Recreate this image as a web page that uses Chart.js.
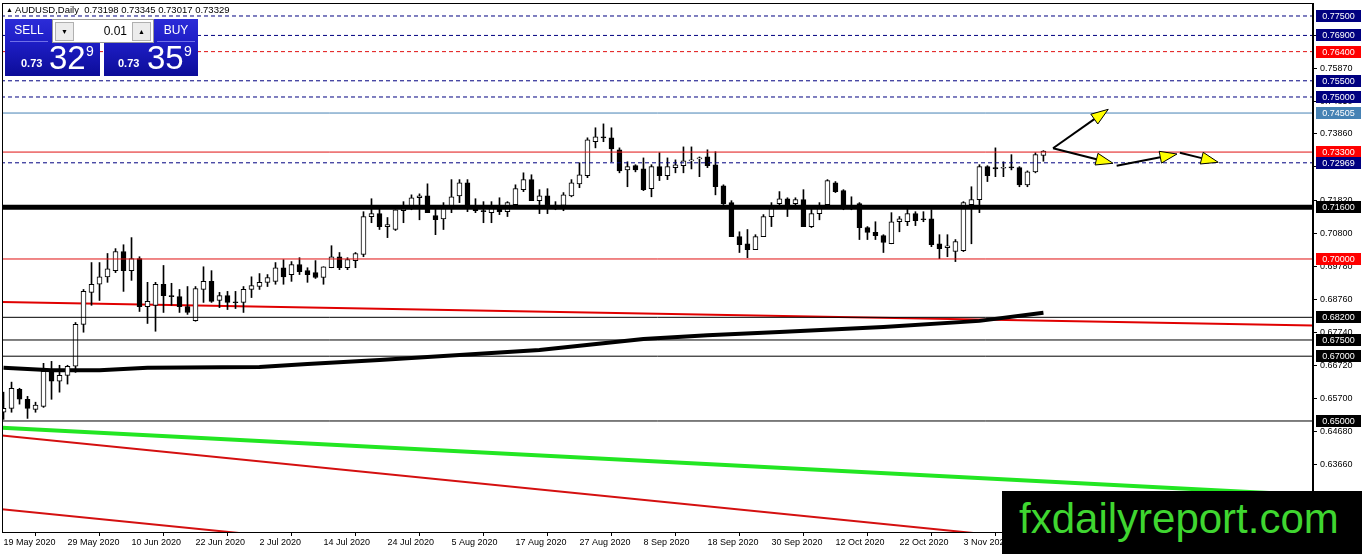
<!DOCTYPE html>
<html>
<head>
<meta charset="utf-8">
<script src="https://cdn.jsdelivr.net/npm/chart.js@4.4.0/dist/chart.umd.min.js"></script>
<style>
body { margin: 0; background: #fff; width: 1362px; height: 554px; overflow: hidden; position: relative; font-family: "Liberation Sans", Arial, sans-serif; }
#c { position: absolute; left: 0; top: 0; }
#hdr { position: absolute; left: 6px; top: 4px; font-size: 9.5px; color: #000; white-space: pre; }
#hdr .tri { font-size: 7px; vertical-align: 1px; }
.blue { position: absolute; background: linear-gradient(to bottom, #2c2cd8 0%, #1e1ec6 40%, #0c0c98 100%); color: #fff; }
.lbl { position: absolute; top: 0; height: 22px; line-height: 22px; text-align: center; font-size: 12px; color: #fff; border-bottom: 1px solid #6f6fe8; }
.ctrl { position: absolute; left: 52px; top: 19px; width: 100px; height: 22px; background: #fff; border: 1px solid #9a9a9a; }
.ctrl .ab { position: absolute; top: 2px; width: 17px; height: 17px; background: #ececec; border: 1px solid #b0b0b0; font-size: 7px; line-height: 17px; text-align: center; color: #000; }
.ctrl .lot { position: absolute; right: 26px; top: 0; line-height: 22px; font-size: 12px; color: #000; }
.sm { position: absolute; bottom: 7px; font-size: 11px; font-weight: bold; }
.lg { position: absolute; top: 22px; font-size: 33px; line-height: 33px; }
.sup { position: absolute; top: 25px; font-size: 14px; line-height: 14px; }
#wm { position: absolute; left: 1002px; top: 491px; width: 360px; height: 63px; background: #000; }
#wm span { position: absolute; left: 17px; top: 4px; font-size: 42px; line-height: 48px; color: #3fd630; }
</style>
</head>
<body>
<canvas id="c" width="1362" height="554"></canvas>

<div id="hdr"><span class="tri">▲</span> AUDUSD,Daily  0.73198 0.73345 0.73017 0.73329</div>

<div class="blue" style="left:5px;top:19px;width:95px;height:57px;">
  <div class="lbl" style="left:5px;width:38px;">SELL</div>
  <span class="sm" style="left:16px;">0.73</span>
  <span class="lg" style="left:44px;">32</span>
  <span class="sup" style="left:81px;">9</span>
</div>
<div class="blue" style="left:104px;top:19px;width:94px;height:57px;">
  <div class="lbl" style="left:53px;width:38px;">BUY</div>
  <span class="sm" style="left:14px;">0.73</span>
  <span class="lg" style="left:43px;">35</span>
  <span class="sup" style="left:80px;">9</span>
</div>
<div class="ctrl">
  <span class="ab" style="left:2px;">▼</span>
  <span class="lot">0.01</span>
  <span class="ab" style="right:2px;">▲</span>
</div>

<div id="wm"><span>fxdailyreport.com</span></div>

<script>
// AUDUSD daily candles, 19 May 2020 .. 17 Nov 2020 (bar index 0..130)
const opens = [
  0.6527, 0.6539, 0.6598, 0.6567, 0.6536, 0.6545, 0.6653, 0.6623, 0.6641, 0.6669,
  0.6798, 0.6897, 0.6922, 0.6945, 0.6964, 0.7023, 0.6964, 0.7001, 0.6853, 0.6857,
  0.6922, 0.6887, 0.6884, 0.6853, 0.6810, 0.6906, 0.6931, 0.6872, 0.6887, 0.6866,
  0.6866, 0.6906, 0.6915, 0.6928, 0.6931, 0.6973, 0.6952, 0.6983, 0.6964, 0.6958,
  0.6943, 0.6973, 0.7007, 0.6973, 0.6995, 0.7014, 0.7131, 0.7140, 0.7100, 0.7091,
  0.7149, 0.7161, 0.7189, 0.7195, 0.7134, 0.7124, 0.7158, 0.7195, 0.7235, 0.7158,
  0.7149, 0.7143, 0.7158, 0.7146, 0.7168, 0.7214, 0.7245, 0.7180, 0.7195, 0.7163,
  0.7165, 0.7195, 0.7232, 0.7257, 0.7362, 0.7375, 0.7374, 0.7337, 0.7275, 0.7288,
  0.7278, 0.7217, 0.7285, 0.7257, 0.7282, 0.7288, 0.7303, 0.7309, 0.7315, 0.7291,
  0.7226, 0.7174, 0.7069, 0.7047, 0.7029, 0.7069, 0.7131, 0.7171, 0.7186, 0.7171,
  0.7183, 0.7100, 0.7140, 0.7168, 0.7235, 0.7211, 0.7161, 0.7171, 0.7097, 0.7082,
  0.7072, 0.7047, 0.7115, 0.7115, 0.7140, 0.7124, 0.7124, 0.7047, 0.7035, 0.7023,
  0.7026, 0.7168, 0.7183, 0.7285, 0.7282, 0.7280, 0.7284, 0.7282, 0.7229, 0.7269,
  0.73198
];
const highs = [
  0.6589, 0.6620, 0.6601, 0.6576, 0.6558, 0.6678, 0.6684, 0.6672, 0.6672, 0.6804,
  0.6906, 0.6989, 0.6989, 0.7017, 0.7032, 0.7044, 0.7066, 0.7007, 0.6928, 0.6928,
  0.6980, 0.6925, 0.6906, 0.6915, 0.6915, 0.6976, 0.6964, 0.6897, 0.6900, 0.6900,
  0.6915, 0.6945, 0.6955, 0.6952, 0.6989, 0.6998, 0.6992, 0.7004, 0.6973, 0.6995,
  0.6976, 0.7041, 0.7020, 0.7004, 0.7020, 0.7146, 0.7186, 0.7155, 0.7128, 0.7152,
  0.7177, 0.7198, 0.7201, 0.7232, 0.7161, 0.7174, 0.7245, 0.7245, 0.7245, 0.7186,
  0.7177, 0.7177, 0.7189, 0.7177, 0.7229, 0.7266, 0.7260, 0.7214, 0.7217, 0.7177,
  0.7205, 0.7245, 0.7297, 0.7374, 0.7405, 0.7417, 0.7405, 0.7343, 0.7300, 0.7291,
  0.7312, 0.7291, 0.7328, 0.7312, 0.7306, 0.7346, 0.7346, 0.7315, 0.7337, 0.7331,
  0.7229, 0.7180, 0.7084, 0.7091, 0.7075, 0.7137, 0.7174, 0.7208, 0.7189, 0.7189,
  0.7214, 0.7161, 0.7174, 0.7245, 0.7239, 0.7214, 0.7192, 0.7174, 0.7100, 0.7115,
  0.7075, 0.7143, 0.7131, 0.7158, 0.7146, 0.7146, 0.7152, 0.7075, 0.7075, 0.7060,
  0.7177, 0.7223, 0.7291, 0.7288, 0.7343, 0.7300, 0.7322, 0.7285, 0.7272, 0.7328,
  0.73345
];
const lows = [
  0.6505, 0.6527, 0.6552, 0.6508, 0.6527, 0.6542, 0.6567, 0.6589, 0.6614, 0.6650,
  0.6774, 0.6857, 0.6872, 0.6928, 0.6958, 0.6900, 0.6934, 0.6838, 0.6801, 0.6777,
  0.6835, 0.6857, 0.6835, 0.6829, 0.6808, 0.6866, 0.6866, 0.6850, 0.6844, 0.6847,
  0.6835, 0.6881, 0.6906, 0.6915, 0.6922, 0.6922, 0.6931, 0.6952, 0.6928, 0.6940,
  0.6922, 0.6973, 0.6967, 0.6967, 0.6973, 0.7007, 0.7112, 0.7091, 0.7066, 0.7088,
  0.7112, 0.7152, 0.7121, 0.7143, 0.7075, 0.7091, 0.7143, 0.7174, 0.7146, 0.7143,
  0.7112, 0.7112, 0.7137, 0.7131, 0.7165, 0.7208, 0.7180, 0.7140, 0.7140, 0.7152,
  0.7149, 0.7192, 0.7220, 0.7251, 0.7343, 0.7362, 0.7300, 0.7266, 0.7223, 0.7269,
  0.7211, 0.7192, 0.7242, 0.7245, 0.7266, 0.7266, 0.7278, 0.7254, 0.7282, 0.7198,
  0.7168, 0.7069, 0.7020, 0.7004, 0.7029, 0.7069, 0.7100, 0.7158, 0.7131, 0.7161,
  0.7100, 0.7097, 0.7121, 0.7165, 0.7205, 0.7152, 0.7152, 0.7060, 0.7060, 0.7060,
  0.7020, 0.7047, 0.7084, 0.7103, 0.7103, 0.7115, 0.7038, 0.7001, 0.7007, 0.6992,
  0.7023, 0.7047, 0.7143, 0.7239, 0.7254, 0.7254, 0.7275, 0.7223, 0.7223, 0.7266,
  0.73017
];
const closes = [
  0.6539, 0.6601, 0.6567, 0.6539, 0.6549, 0.6653, 0.6623, 0.6641, 0.6669, 0.6798,
  0.6900, 0.6922, 0.6945, 0.6970, 0.7023, 0.6964, 0.7001, 0.6853, 0.6869, 0.6922,
  0.6887, 0.6884, 0.6853, 0.6835, 0.6909, 0.6931, 0.6869, 0.6887, 0.6866, 0.6865,
  0.6906, 0.6918, 0.6928, 0.6943, 0.6973, 0.6945, 0.6983, 0.6961, 0.6952, 0.6943,
  0.6976, 0.7007, 0.6973, 0.6998, 0.7017, 0.7131, 0.7140, 0.7100, 0.7106, 0.7152,
  0.7158, 0.7189, 0.7195, 0.7143, 0.7121, 0.7158, 0.7192, 0.7235, 0.7168, 0.7149,
  0.7146, 0.7158, 0.7146, 0.7174, 0.7217, 0.7245, 0.7180, 0.7195, 0.7165, 0.7166,
  0.7198, 0.7235, 0.7260, 0.7368, 0.7377, 0.7374, 0.7340, 0.7272, 0.7285, 0.7275,
  0.7214, 0.7285, 0.7257, 0.7285, 0.7291, 0.7303, 0.7306, 0.7312, 0.7288, 0.7223,
  0.7171, 0.7069, 0.7044, 0.7029, 0.7069, 0.7131, 0.7158, 0.7186, 0.7165, 0.7183,
  0.7100, 0.7140, 0.7158, 0.7242, 0.7208, 0.7161, 0.7159, 0.7097, 0.7082, 0.7072,
  0.7051, 0.7115, 0.7124, 0.7140, 0.7118, 0.7121, 0.7044, 0.7032, 0.7041, 0.7054,
  0.7174, 0.7183, 0.7285, 0.7257, 0.7278, 0.7282, 0.7281, 0.7229, 0.7269, 0.7322,
  0.73329
];

// date tick labels every 8 bars
const dateTickBars = [0, 8, 16, 24, 32, 40, 48, 56, 64, 72, 80, 88, 96, 104, 112, 120, 128];
const dateLabels = ['19 May 2020', '29 May 2020', '10 Jun 2020', '22 Jun 2020', '2 Jul 2020',
  '14 Jul 2020', '24 Jul 2020', '5 Aug 2020', '17 Aug 2020', '27 Aug 2020', '8 Sep 2020',
  '18 Sep 2020', '30 Sep 2020', '12 Oct 2020', '22 Oct 2020', '3 Nov 2020', '13 Nov 2020'];

// price axis ticks
const priceTicks = [0.7689, 0.7587, 0.7485, 0.7386, 0.7284, 0.7182, 0.7080, 0.6978,
  0.6876, 0.6774, 0.6672, 0.6570, 0.6468, 0.6366, 0.6264];

// horizontal levels
const levelPrices = [0.7750, 0.7690, 0.7640, 0.7550, 0.7500, 0.74505, 0.7330, 0.72969,
  0.7160, 0.7000, 0.6820, 0.6750, 0.6700, 0.6500];
const levelColors = ['#000080', '#000080', '#e01010', '#000080', '#000080', '#4682b4', '#e01010',
  '#000080', '#000000', '#e01010', '#000000', '#000000', '#000000', '#000000'];
const levelBoxColors = ['#000080', '#000080', '#ff0000', '#000080', '#000080', '#4682b4', '#ff0000',
  '#000080', '#000000', '#ff0000', '#000000', '#000000', '#000000', '#000000'];
const levelDashed = [true, true, true, true, true, false, false, true, false, false, false, false, false, false];
const levelWidths = [1, 1, 1, 1, 1, 1, 1, 1, 5, 1, 1, 1, 1, 1];

// moving average, read at some bars
const maBars = [0, 6, 12, 18, 32, 38, 47, 57, 67, 80, 88, 97, 110, 122, 130];
const maValues = [0.6664, 0.6657, 0.6657, 0.6664, 0.6667, 0.6676, 0.6688, 0.6704, 0.6719,
  0.6753, 0.6765, 0.6775, 0.6790, 0.6809, 0.6834];

// trend lines (two points each)
const redTrendBars = [-1, 165];
const redTrendPrices = [0.6868, 0.6794];
const greenTrendBars = [-1, 165];
const greenTrendPrices = [0.6480, 0.6269];
const lowRed1Bars = [-1, 125];
const lowRed1Prices = [0.6457, 0.6145];
const lowRed2Bars = [-1, 40];
const lowRed2Prices = [0.6230, 0.6128];

// arrows
const arrowFromBar = [131.2, 131.2, 139.15, 147.06];
const arrowFromPrice = [0.73417, 0.73417, 0.72880, 0.73281];
const arrowToBar = [138.1, 138.7, 146.7, 151.85];
const arrowToPrice = [0.7462, 0.72954, 0.73241, 0.72985];

const X_MIN = -0.19, X_MAX = 163.7;
const Y_MIN = 0.61574, Y_MAX = 0.77901;
const FONT = '"Liberation Sans", Arial, sans-serif';

const bars = opens.map((o, i) => i);

function lineSet(xs, ys, color, width, dash, order) {
    return {
        type: 'line',
        data: xs.map((x, k) => ({ x: x, y: ys[k] })),
        borderColor: color,
        borderWidth: width,
        borderDash: dash || [],
        pointRadius: 0,
        fill: false,
        tension: 0,
        order: order
    };
}

const datasets = [];

// levels on top
levelPrices.forEach((p, k) => {
    datasets.push(lineSet([X_MIN - 1, X_MAX + 1], [p, p], levelColors[k], levelWidths[k],
        levelDashed[k] ? [4, 3] : [], 1));
});

// candles
datasets.push({
    type: 'bar',
    data: bars.map(i => ({ x: i, y: [opens[i], closes[i]] })),
    backgroundColor: ctx => closes[ctx.dataIndex] >= opens[ctx.dataIndex] ? '#ffffff' : '#000000',
    borderColor: '#000000',
    borderWidth: 1,
    borderSkipped: false,
    barThickness: 5,
    minBarLength: 1,
    grouped: false,
    order: 2
});
datasets.push({
    type: 'bar',
    data: bars.map(i => ({ x: i, y: [lows[i], highs[i]] })),
    backgroundColor: '#000000',
    borderWidth: 0,
    barThickness: 1,
    grouped: false,
    order: 3
});

// indicator and trend lines under the candles
datasets.push(lineSet(maBars, maValues, '#000000', 4, null, 4));
datasets.push(lineSet(redTrendBars, redTrendPrices, '#e00000', 2, null, 4));
datasets.push(lineSet(greenTrendBars, greenTrendPrices, '#22e622', 4, null, 4));
datasets.push(lineSet(lowRed1Bars, lowRed1Prices, '#d41010', 2, null, 4));
datasets.push(lineSet(lowRed2Bars, lowRed2Prices, '#d41010', 2, null, 4));

const overlays = {
    id: 'overlays',
    afterDatasetsDraw(chart) {
        const ctx = chart.ctx, xs = chart.scales.x, ys = chart.scales.y, a = chart.chartArea;
        ctx.save();
        ctx.beginPath();
        ctx.rect(a.left, a.top, a.right - a.left, a.bottom - a.top);
        ctx.clip();
        for (let k = 0; k < arrowFromBar.length; k++) {
            const x0 = xs.getPixelForValue(arrowFromBar[k]), y0 = ys.getPixelForValue(arrowFromPrice[k]);
            const x1 = xs.getPixelForValue(arrowToBar[k]), y1 = ys.getPixelForValue(arrowToPrice[k]);
            const ang = Math.atan2(y1 - y0, x1 - x0);
            const len = 17, hw = 6;
            const bx = x1 - len * Math.cos(ang), by = y1 - len * Math.sin(ang);
            ctx.strokeStyle = '#000';
            ctx.lineWidth = 2;
            ctx.beginPath();
            ctx.moveTo(x0, y0);
            ctx.lineTo(bx, by);
            ctx.stroke();
            ctx.beginPath();
            ctx.moveTo(x1, y1);
            ctx.lineTo(bx + hw * Math.sin(ang), by - hw * Math.cos(ang));
            ctx.lineTo(bx - hw * Math.sin(ang), by + hw * Math.cos(ang));
            ctx.closePath();
            ctx.fillStyle = '#ffff00';
            ctx.fill();
            ctx.lineWidth = 1;
            ctx.stroke();
        }
        ctx.restore();
    },
    afterDraw(chart) {
        const ctx = chart.ctx, ys = chart.scales.y, a = chart.chartArea;
        ctx.save();
        ctx.strokeStyle = '#000';
        ctx.lineWidth = 1;
        ctx.strokeRect(a.left + 0.5, a.top + 0.5, a.right - a.left - 1, a.bottom - a.top);
        ctx.font = '9px ' + FONT;
        ctx.textAlign = 'center';
        ctx.textBaseline = 'middle';
        levelPrices.forEach((p, k) => {
            const y = Math.round(ys.getPixelForValue(p));
            ctx.fillStyle = levelBoxColors[k];
            ctx.fillRect(a.right + 3, y - 6, 45, 12);
            ctx.fillStyle = '#fff';
            ctx.fillText(p.toFixed(5), a.right + 25.5, y + 0.5);
        });
        ctx.restore();
    }
};

new Chart(document.getElementById('c').getContext('2d'), {
    type: 'bar',
    data: { datasets: datasets },
    options: {
        responsive: false,
        animation: false,
        devicePixelRatio: 1,
        layout: { padding: { left: 2, top: 3, right: 0, bottom: 0 } },
        plugins: { legend: { display: false }, tooltip: { enabled: false } },
        scales: {
            x: {
                type: 'linear',
                min: X_MIN,
                max: X_MAX,
                offset: false,
                grid: { drawOnChartArea: false, tickLength: 4, color: '#000' },
                border: { color: '#000' },
                ticks: {
                    align: 'start',
                    maxRotation: 0,
                    autoSkip: false,
                    padding: 1,
                    color: '#000',
                    font: { size: 9, family: FONT },
                    callback: (v, idx) => dateLabels[idx]
                },
                afterBuildTicks: s => { s.ticks = dateTickBars.map(v => ({ value: v })); },
                afterFit: s => { s.height = 22; s.paddingLeft = 0; s.paddingRight = 0; }
            },
            y: {
                position: 'right',
                min: Y_MIN,
                max: Y_MAX,
                grid: { drawOnChartArea: false, tickLength: 4, color: '#000' },
                border: { color: '#000' },
                ticks: {
                    padding: 3,
                    color: '#000',
                    font: { size: 9, family: FONT },
                    callback: v => v.toFixed(5)
                },
                afterBuildTicks: s => { s.ticks = priceTicks.map(v => ({ value: v })); },
                afterFit: s => { s.width = 49; s.paddingTop = 0; s.paddingBottom = 0; }
            }
        }
    },
    plugins: [overlays]
});
</script>
</body>
</html>
